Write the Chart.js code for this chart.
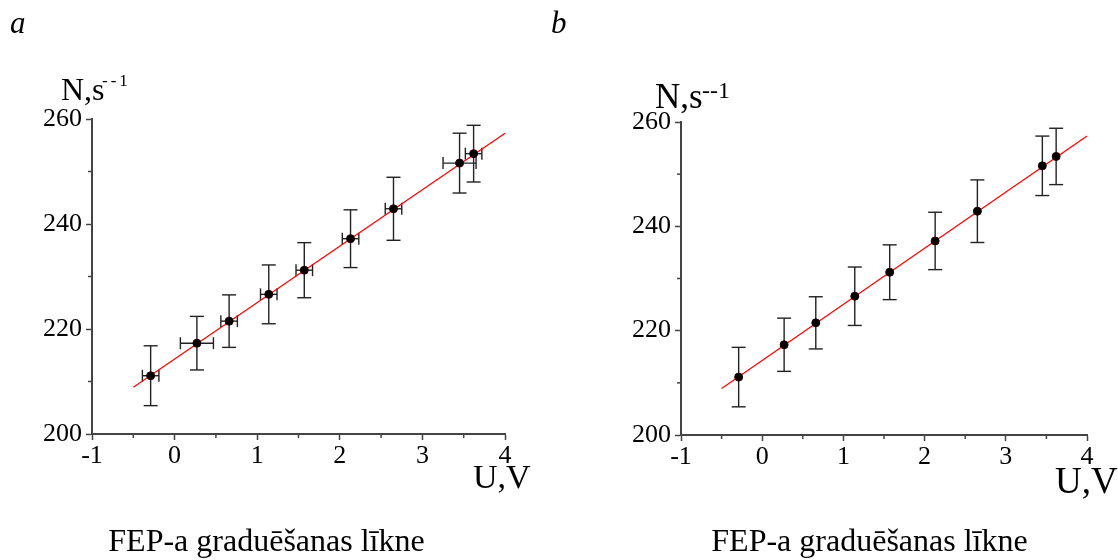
<!DOCTYPE html>
<html><head><meta charset="utf-8">
<script src="https://cdn.jsdelivr.net/npm/chart.js@4/dist/chart.umd.min.js"></script>
<style>
body{margin:0;width:1118px;height:560px;background:#fff;position:relative;overflow:hidden;font-family:'Liberation Serif','Times New Roman',serif;}
canvas{position:absolute;top:0}
.t{position:absolute;white-space:nowrap;line-height:1;color:#000;font-family:'Liberation Serif','Times New Roman',serif;}
</style></head><body>
<canvas id="ca" style="left:0" width="559" height="560"></canvas>
<canvas id="cb" style="left:559px" width="559" height="560"></canvas>

<div class="t" style="left:10px;top:7px;font-size:31px;font-style:italic">a</div>
<div class="t" style="left:551px;top:7px;font-size:31px;font-style:italic">b</div>

<div class="t" style="left:61px;top:73px;font-size:32px">N,s</div>
<div class="t" style="left:102px;top:72px;font-size:17px;letter-spacing:3px">--1</div>
<div class="t" style="left:655px;top:79px;font-size:35px">N,s</div>
<div class="t" style="left:702px;top:78px;font-size:24px">--1</div>

<div class="t" style="left:473px;top:459.5px;font-size:34px">U,V</div>
<div class="t" style="left:1055px;top:462px;font-size:37px">U,V</div>

<div class="t" style="left:266.5px;top:524px;font-size:32px;transform:translateX(-50%)">FEP-a graduēšanas līkne</div>
<div class="t" style="left:869.5px;top:524px;font-size:32px;transform:translateX(-50%)">FEP-a graduēšanas līkne</div>

<script>
// ---- data ----
const U    = [-0.29, 0.27, 0.66, 1.14, 1.57, 2.13, 2.65, 3.45, 3.62];
const N    = [211.1, 217.3, 221.5, 226.6, 231.2, 237.2, 242.9, 251.6, 253.4];
const Nerr = [5.7, 5.1, 5.0, 5.6, 5.25, 5.5, 6.0, 5.7, 5.4];
const Uerr = [0.1, 0.2, 0.1, 0.1, 0.1, 0.1, 0.1, 0.2, 0.1];
const fitU = [-0.5, 4.0];
const fitN = [208.9, 257.3];
const xTicks = [-1, 0, 1, 2, 3, 4];
const yTicks = [200, 220, 240, 260];
const xMinor = [-0.5, 0.5, 1.5, 2.5, 3.5];
const yMinor = [210, 230, 250];

const AX = '#444';
const FONT = '"Liberation Serif", "Times New Roman", Times, serif';
Chart.defaults.font.family = FONT;

const decor = {
  id: 'decor',
  beforeDatasetsDraw(chart, args, opts) {
    const {ctx, scales: {x, y}} = chart;
    ctx.save();
    ctx.strokeStyle = '#222';
    ctx.lineWidth = 1.4;
    const seg = (a, b, c, d) => { ctx.beginPath(); ctx.moveTo(a, b); ctx.lineTo(c, d); ctx.stroke(); };
    U.forEach((u, i) => {
      const px = x.getPixelForValue(u), py = y.getPixelForValue(N[i]);
      const t = y.getPixelForValue(N[i] + Nerr[i]), b = y.getPixelForValue(N[i] - Nerr[i]);
      seg(px, t, px, b); seg(px - 7, t, px + 7, t); seg(px - 7, b, px + 7, b);
      if (opts.xerr) {
        const l = x.getPixelForValue(u - Uerr[i]), r = x.getPixelForValue(u + Uerr[i]);
        seg(l, py, r, py); seg(l, py - 6, l, py + 6); seg(r, py - 6, r, py + 6);
      }
    });
    ctx.restore();
  },
  afterDraw(chart) {
    const {ctx, scales: {x, y}, chartArea} = chart;
    ctx.save();
    ctx.strokeStyle = AX; ctx.lineWidth = 1.5;
    xMinor.forEach(v => { const p = x.getPixelForValue(v); ctx.beginPath(); ctx.moveTo(p, chartArea.bottom); ctx.lineTo(p, chartArea.bottom + 4); ctx.stroke(); });
    yMinor.forEach(v => { const p = y.getPixelForValue(v); ctx.beginPath(); ctx.moveTo(chartArea.left, p); ctx.lineTo(chartArea.left - 4, p); ctx.stroke(); });
    ctx.restore();
  }
};

function makeChart(id, geo, xerr) {
  const pts = U.map((u, i) => ({x: u, y: N[i]}));
  const fit = fitU.map((u, i) => ({x: u, y: fitN[i]}));
  return new Chart(document.getElementById(id), {
    type: 'scatter',
    data: {datasets: [
      {type: 'line', data: fit, borderColor: '#ff0000', borderWidth: 1.2, pointRadius: 0, fill: false, order: 2},
      {data: pts, pointRadius: 4, pointBackgroundColor: '#000', pointBorderColor: '#200', pointBorderWidth: 1, order: 1}
    ]},
    options: {
      responsive: false, animation: false, events: [], devicePixelRatio: 1,
      layout: {padding: {left: 0, right: geo.right, top: geo.top, bottom: geo.bottom}},
      plugins: {legend: {display: false}, tooltip: {enabled: false}, decor: {xerr}},
      scales: {
        x: {
          type: 'linear', min: -1, max: 4,
          afterBuildTicks: s => { s.ticks = xTicks.map(v => ({value: v})); },
          afterFit: s => { s.height = 50; },
          ticks: {color: '#000', font: {family: FONT, size: 26}, padding: 1, maxRotation: 0,
                  callback: v => String(v)},
          grid: {display: true, drawOnChartArea: false, drawTicks: true, tickLength: 6, tickColor: AX, tickWidth: 1.5},
          border: {display: true, color: AX, width: 2}
        },
        y: {
          type: 'linear', min: 200, max: 260,
          afterBuildTicks: s => { s.ticks = yTicks.map(v => ({value: v})); },
          afterFit: s => { s.width = geo.left; },
          ticks: {color: '#000', font: {family: FONT, size: 26}, padding: 4, callback: v => String(v)},
          grid: {display: true, drawOnChartArea: false, drawTicks: true, tickLength: 6, tickColor: AX, tickWidth: 1.5},
          border: {display: true, color: AX, width: 2}
        }
      }
    },
    plugins: [decor]
  });
}

const charts = [
  makeChart('ca', {left: 92, right: 559 - 505, top: 119, bottom: 560 - 434 - 50}, true),
  makeChart('cb', {left: 122, right: 559 - 528, top: 122, bottom: 560 - 435 - 50}, false)
];
if (document.fonts) {
  document.fonts.load('26px "Liberation Serif"').then(() => charts.forEach(c => c.update('none')));
}
</script>
</body></html>
